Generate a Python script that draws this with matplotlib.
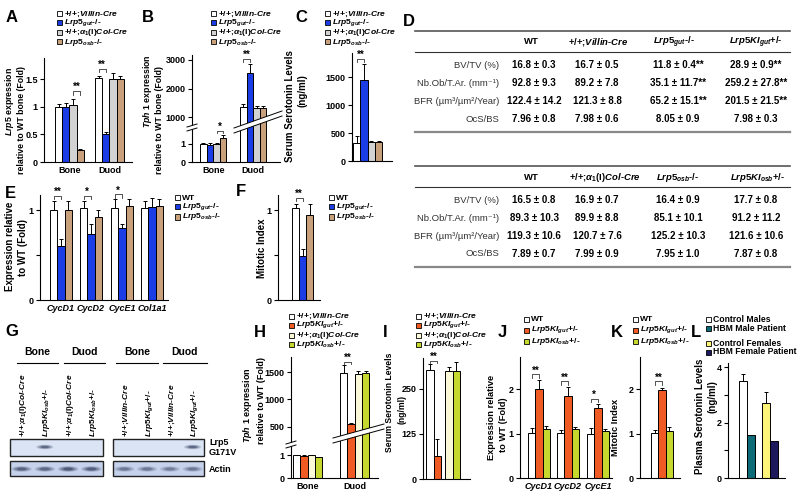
import matplotlib
matplotlib.use('Agg')
import matplotlib.pyplot as plt
from matplotlib.patches import Rectangle, Polygon, Ellipse
from matplotlib.lines import Line2D

plt.rcParams['font.family'] = ['Liberation Sans', 'DejaVu Sans']
plt.rcParams['font.weight'] = 'bold'
plt.rcParams['mathtext.fontset'] = 'custom'
plt.rcParams['mathtext.rm'] = 'Liberation Sans:bold'
plt.rcParams['mathtext.it'] = 'Liberation Sans:bold:italic'
plt.rcParams['mathtext.bf'] = 'Liberation Sans:bold'
plt.rcParams['mathtext.sf'] = 'Liberation Sans:bold'

# colours
WHITE = 'white'
BLUE = '#1b3de6'
GRAY = '#d2d2d2'
TAN = '#c9a07c'
ORANGE = '#f05a23'
CREAM = '#fbf8d8'
LIME = '#c6d82e'
TEAL = '#0d6b78'
YELLOW = '#fff47a'
NAVY = '#1c1a5c'

# genotype labels
VIL = r'+/+;$Villin$-$Cre$'
COL = r'+/+;$\alpha_1$(I)$Col$-$Cre$'
GUT_KO = r'$\mathit{Lrp5}_{gut}$-/-'
OSB_KO = r'$\mathit{Lrp5}_{osb}$-/-'
GUT_KI = r'$\mathit{Lrp5KI}_{gut}$+/-'
OSB_KI = r'$\mathit{Lrp5KI}_{osb}$+/-'

# ---- data ----
tissues = ['Bone', 'Duod']
a_vals = [[1.0, 1.0, 1.03, 0.22], [1.52, 0.5, 1.5, 1.5]]
a_errs = [[0.05, 0.06, 0.1, 0.02], [0.04, 0.04, 0.1, 0.05]]

b_vals = [[1.0, 0.95, 1.0, 1.35], [1350, 2550, 1310, 1310]]
b_errs = [[0.05, 0.08, 0.05, 0.15], [100, 320, 90, 90]]

c_vals = [[330, 1440, 340, 340]]
c_errs = [[110, 300, 10, 15]]

d_rows = ['BV/TV (%)', 'Nb.Ob/T.Ar. (mm⁻¹)', 'BFR (µm³/µm²/Year)', 'OcS/BS']
d1_head = ['WT', VIL, GUT_KO, GUT_KI]
d1_vals = [['16.8 ± 0.3', '16.7 ± 0.5', '11.8 ± 0.4**', '28.9 ± 0.9**'],
           ['92.8 ± 9.3', '89.2 ± 7.8', '35.1 ± 11.7**', '259.2 ± 27.8**'],
           ['122.4 ± 14.2', '121.3 ± 8.8', '65.2 ± 15.1**', '201.5 ± 21.5**'],
           ['7.96 ± 0.8', '7.98 ± 0.6', '8.05 ± 0.9', '7.98 ± 0.3']]
d2_head = ['WT', COL, OSB_KO, OSB_KI]
d2_vals = [['16.5 ± 0.8', '16.9 ± 0.7', '16.4 ± 0.9', '17.7 ± 0.8'],
           ['89.3 ± 10.3', '89.9 ± 8.8', '85.1 ± 10.1', '91.2 ± 11.2'],
           ['119.3 ± 10.6', '120.7 ± 7.6', '125.2 ± 10.3', '121.6 ± 10.6'],
           ['7.89 ± 0.7', '7.99 ± 0.9', '7.95 ± 1.0', '7.87 ± 0.8']]

e_genes = ['CycD1', 'CycD2', 'CycE1', 'Col1a1']
e_vals = [[1.0, 0.6, 1.0], [1.02, 0.73, 0.92], [1.02, 0.8, 1.05], [1.02, 1.04, 1.05]]
e_errs = [[0.1, 0.08, 0.1], [0.08, 0.12, 0.08], [0.1, 0.05, 0.08], [0.08, 0.1, 0.07]]

f_vals = [[1.02, 0.49, 0.95]]
f_errs = [[0.05, 0.08, 0.12]]

g_lanes = [COL, OSB_KI, COL, OSB_KI, VIL, GUT_KI, VIL, GUT_KI]
g_lrp5 = [0, 0.8, 0, 0, 0, 0, 0, 0.8]
g_actin = [0.8, 0.75, 0.9, 0.85, 0.6, 0.6, 0.55, 0.6]

h_vals = [[1.0, 0.97, 1.0, 0.9], [1490, 560, 1460, 1480]]
h_errs = [[0.02, 0.04, 0.02, 0.02], [130, 20, 60, 40]]

i_vals = [[303, 65], [300, 300]]
i_errs = [[15, 45], [10, 25]]

j_genes = ['CycD1', 'CycD2', 'CycE1']
j_vals = [[1.02, 2.0, 1.1], [1.02, 1.85, 1.1], [1.0, 1.58, 1.05]]
j_errs = [[0.1, 0.2, 0.08], [0.05, 0.2, 0.05], [0.12, 0.08, 0.05]]

k_vals = [[1.02, 1.98, 1.05]]
k_errs = [[0.06, 0.05, 0.1]]

l_vals = [[3.5, 1.55], [2.7, 1.32]]
l_errs = [[0.25, 0], [0.4, 0]]

# ---- helpers (pixel layout on an 800x494 canvas) ----
fig = plt.figure(figsize=(8, 4.94), dpi=100)
W, H = 800, 494


def fxy(x, y):
    return (x / W, 1 - y / H)


def ftext(x, y, s, **kw):
    fig.text(x / W, 1 - y / H, s, **kw)


def fline(xs, ys, **kw):
    fig.add_artist(Line2D([x / W for x in xs], [1 - y / H for y in ys],
                          transform=fig.transFigure, **kw))


def add_ax(x0, y0, x1, y1):
    ax = fig.add_axes([x0 / W, 1 - y1 / H, (x1 - x0) / W, (y1 - y0) / H])
    ax.set_xlim(0, x1 - x0)
    ax.patch.set_alpha(0)
    for s in ('top', 'right'):
        ax.spines[s].set_visible(False)
    for s in ('left', 'bottom'):
        ax.spines[s].set_linewidth(0.8)
    ax.tick_params(axis='y', length=3, width=0.8, labelsize=6.5, pad=1.5)
    ax.tick_params(axis='x', length=0, labelsize=6.5, pad=3)
    ax.set_xticks([])
    return ax


def bars(ax, vals, errs, colors, starts, bw):
    centers = []
    for g, start in enumerate(starts):
        row = []
        for i, (v, e) in enumerate(zip(vals[g], errs[g])):
            xc = start + (i + 0.5) * bw
            ax.bar(xc, v, bw, color=colors[i], edgecolor='black', linewidth=0.7, zorder=2)
            if e:
                ax.errorbar(xc, v, yerr=[[0], [e]], fmt='none', ecolor='black',
                            elinewidth=0.7, capsize=1.6, capthick=0.7, zorder=1)
            row.append(xc)
        centers.append(row)
    return centers


def sig(ax, xa, xb, y, h, s='**', fs=7):
    ax.plot([xa, xa, xb, xb], [y, y + h, y + h, y], color='#333', lw=0.6, clip_on=False)
    ax.text((xa + xb) / 2, y + h * 0.6, s, ha='center', va='bottom', fontsize=fs, clip_on=False)


def legend(x, ys, labels, colors, fs=6.1):
    for y, lab, c in zip(ys, labels, colors):
        fig.add_artist(Rectangle(fxy(x, y + 2.5), 5 / W, 5 / H, transform=fig.transFigure,
                                 facecolor=c, edgecolor='black', lw=0.6))
        ftext(x + 7, y, lab, fontsize=fs, va='center', ha='left')


def band(x0, y0, x1, y1, gap=5):
    fig.add_artist(Polygon([fxy(x0, y0), fxy(x1, y1), fxy(x1, y1 + gap), fxy(x0, y0 + gap)],
                           closed=True, transform=fig.transFigure, facecolor='white',
                           edgecolor='none', zorder=5))
    fline([x0, x1], [y0, y1], color='black', lw=0.7, zorder=6)
    fline([x0, x1], [y0 + gap, y1 + gap], color='black', lw=0.7, zorder=6)


def ylab(x, y, s, fs=7):
    ftext(x, y, s, rotation=90, ha='center', va='center', fontsize=fs)


def letter(x, y, s):
    ftext(x, y, s, fontsize=12, ha='center', va='center')


# ---- A ----
letter(12, 17, 'A')
legend(57, [14, 23, 33, 42], [VIL, GUT_KO, COL, OSB_KO], [WHITE, BLUE, GRAY, TAN])
ax = add_ax(44, 58, 132, 162)
ax.set_ylim(0, 1.88)
c = bars(ax, a_vals, a_errs, [WHITE, BLUE, GRAY, TAN], [11, 51], 7.2)
ax.set_yticks([0, 0.5, 1, 1.5], ['0', '0.5', '1', '1.5'])
ax.set_xticks([sum(r) / len(r) for r in c], tissues)
sig(ax, c[0][2], c[0][3], 1.22, 0.07)
sig(ax, c[1][0], c[1][1], 1.62, 0.07)
ylab(10, 101, r'$\mathit{Lrp5}$ expression', fs=6.3)
ylab(22, 120, 'relative to WT bone (Fold)', fs=6.3)

# ---- B (broken axis) ----
letter(148, 17, 'B')
legend(211, [14, 23, 33, 42], [VIL, GUT_KO, COL, OSB_KO], [WHITE, BLUE, GRAY, TAN])
lo = add_ax(192, 125, 280, 162)
hi = add_ax(192, 55, 280, 125)
lo.set_ylim(0, 2.05)
hi.set_ylim(720, 3175)
hi.spines['bottom'].set_visible(False)
for a in (lo, hi):
    c = bars(a, b_vals, b_errs, [WHITE, BLUE, GRAY, TAN], [8, 48], 6.6)
lo.set_yticks([0, 1], ['0', '1'])
hi.set_yticks([1000, 2000, 3000], ['1000', '2000', '3000'])
lo.set_xticks([sum(r) / len(r) for r in c], tissues)
sig(lo, c[0][2], c[0][3], 1.58, 0.12, '*')
sig(hi, c[1][0], c[1][1], 2940, 90)
band(234, 128, 282, 111)
band(187, 127, 197, 124, gap=4)
ylab(147, 91, r'$\mathit{Tph\ 1}$ expression', fs=6.3)
ylab(159, 120, 'relative to WT bone (Fold)', fs=6.3)

# ---- C ----
letter(301, 17, 'C')
legend(325, [14, 23, 33, 42], [VIL, GUT_KO, COL, OSB_KO], [WHITE, BLUE, GRAY, TAN])
ax = add_ax(352, 53, 392, 161)
ax.set_ylim(0, 1929)
c = bars(ax, c_vals, c_errs, [WHITE, BLUE, GRAY, TAN], [1], 7.3)
ax.set_yticks([0, 500, 1000, 1500], ['0', '500', '1000', '1500'])
sig(ax, c[0][0], c[0][1], 1770, 60)
ylab(290, 106, 'Serum Serotonin Levels')
ylab(303, 91, '(ng/ml)')

# ---- D (tables) ----
letter(409, 22, 'D')
col_x = [534, 597, 678, 756]


def table(top, head, vals, hx):
    fline([415, 790], [top, top], color='#555', lw=1.2)
    fline([415, 790], [top + 21, top + 21], color='#333', lw=0.8)
    fline([415, 790], [top + 101, top + 101], color='#888', lw=1.6)
    for x, s in zip(hx, head):
        ftext(x, top + 11, s, ha='center', va='center', fontsize=6.8)
    for r, (lab, row) in enumerate(zip(d_rows, vals)):
        y = top + 34 + r * 18
        ftext(499, y, lab, ha='right', va='center', fontsize=6.8, fontweight='normal', color='#333')
        for x, s in zip(col_x, row):
            ftext(x, y, s, ha='center', va='center', fontsize=7)


table(31, d1_head, d1_vals, [531, 598, 674, 756])
table(166, d2_head, d2_vals, [531, 605, 678, 758])

# ---- E ----
letter(10, 193, 'E')
legend(175, [198, 207, 217], ['WT', GUT_KO, OSB_KO], [WHITE, BLUE, TAN])
ax = add_ax(40, 195, 168, 300)
ax.set_ylim(0, 1.17)
c = bars(ax, e_vals, e_errs, [WHITE, BLUE, TAN], [10, 40, 71, 101], 7.3)
ax.set_yticks([0, 0.5, 1], ['0', '', '1'])
ax.set_xticks([sum(r) / len(r) for r in c], e_genes, fontstyle='italic')
sig(ax, c[0][0], c[0][1], 1.12, 0.04)
sig(ax, c[1][0], c[1][1], 1.12, 0.04, '*')
sig(ax, c[2][0], c[2][1], 1.14, 0.04, '*')
ylab(10, 246, 'Expression relative')
ylab(23, 247, 'to WT (Fold)')

# ---- F ----
letter(241, 192, 'F')
legend(329, [198, 207, 217], ['WT', GUT_KO, OSB_KO], [WHITE, BLUE, TAN])
ax = add_ax(278, 195, 320, 300)
ax.set_ylim(0, 1.17)
c = bars(ax, f_vals, f_errs, [WHITE, BLUE, TAN], [14], 7)
ax.set_yticks([0, 0.5, 1], ['0', '', '1'])
sig(ax, c[0][0], c[0][1], 1.1, 0.04)
ylab(262, 248, 'Mitotic Index')

# ---- G (western blot) ----
letter(12, 331, 'G')
for s, x0, x1 in [('Bone', 17, 58), ('Duod', 64, 105), ('Bone', 116, 158), ('Duod', 163, 207)]:
    ftext((x0 + x1) / 2, 352, s, ha='center', va='center', fontsize=7.5)
    fline([x0, x1], [363, 363], color='black', lw=0.8)
boxes = [(10, 103), (113, 204)]
for bx0, bx1 in boxes:
    fig.add_artist(Rectangle(fxy(bx0, 456), (bx1 - bx0) / W, 17 / H, transform=fig.transFigure,
                             facecolor='#dbe4f5', edgecolor='#222', lw=1.0))
    fig.add_artist(Rectangle(fxy(bx0, 476), (bx1 - bx0) / W, 15 / H, transform=fig.transFigure,
                             facecolor='#c6d2ec', edgecolor='#222', lw=1.0))
for k, lab in enumerate(g_lanes):
    bx0, bx1 = boxes[k // 4]
    x = bx0 + ((k % 4) + 0.5) * (bx1 - bx0) / 4
    ftext(x + 2, 437, lab, rotation=90, ha='center', va='bottom', fontsize=6)
    for scale, alpha in [(1.0, 0.25), (0.75, 0.35), (0.5, 0.5)]:
        if g_lrp5[k]:
            fig.add_artist(Ellipse(fxy(x, 447), 17 * scale / W, 4.5 * scale / H,
                                   transform=fig.transFigure, facecolor='#1c2a4a',
                                   edgecolor='none', alpha=alpha * g_lrp5[k]))
        fig.add_artist(Ellipse(fxy(x, 469), 20 * scale / W, 5.5 * scale / H,
                               transform=fig.transFigure, facecolor='#1c2a4a',
                               edgecolor='none', alpha=alpha * g_actin[k]))
ftext(209, 442, 'Lrp5', ha='left', va='center', fontsize=6.5)
ftext(209, 452, 'G171V', ha='left', va='center', fontsize=6.5)
ftext(209, 469, 'Actin', ha='left', va='center', fontsize=6.5)

# ---- H (broken axis) ----
letter(260, 332, 'H')
legend(289, [316, 325, 335, 344], [VIL, GUT_KI, COL, OSB_KI], [WHITE, ORANGE, CREAM, LIME])
lo = add_ax(291, 441, 378, 478)
hi = add_ax(291, 357, 378, 441)
lo.set_ylim(0, 1.61)
hi.set_ylim(245, 1773)
hi.spines['bottom'].set_visible(False)
for a in (lo, hi):
    c = bars(a, h_vals, h_errs, [WHITE, ORANGE, CREAM, LIME], [2, 49], 7.3)
lo.set_yticks([0, 1], ['0', '1'])
hi.set_yticks([500, 1000, 1500], ['500', '1000', '1500'])
lo.set_xticks([sum(r) / len(r) for r in c], tissues)
sig(hi, c[1][0], c[1][1], 1640, 45)
band(333, 438, 384, 424)
band(286, 444, 296, 441, gap=4)
ylab(248, 405, r'$\mathit{Tph\ 1}$ expression', fs=6.5)
ylab(261, 400, 'relative to WT (Fold)', fs=6.5)

# ---- I ----
letter(385, 332, 'I')
legend(416, [316, 325, 335, 344], [VIL, GUT_KI, COL, OSB_KI], [WHITE, ORANGE, CREAM, LIME])
ax = add_ax(423, 358, 470, 479)
ax.set_ylim(0, 336)
c = bars(ax, i_vals, i_errs, [WHITE, ORANGE], [3, 22], 7.5)
for patch, col in zip(ax.patches[2:], [CREAM, LIME]):
    patch.set_facecolor(col)
ax.set_yticks([0, 125, 250], ['0', '125', '250'])
sig(ax, c[0][0], c[0][1], 322, 7)
ylab(389, 402, 'Serum Serotonin Levels', fs=6.2)
ylab(402, 410, '(ng/ml)', fs=6.2)

# ---- J ----
letter(502, 332, 'J')
legend(524, [319, 330, 341], ['WT', GUT_KI, OSB_KI], [WHITE, ORANGE, LIME])
ax = add_ax(520, 357, 612, 478)
ax.set_ylim(0, 2.72)
c = bars(ax, j_vals, j_errs, [WHITE, ORANGE, LIME], [8, 37, 67], 7.3)
ax.set_yticks([0, 1, 2], ['0', '1', '2'])
ax.set_xticks([sum(r) / len(r) for r in c], j_genes, fontstyle='italic')
sig(ax, c[0][0], c[0][1], 2.25, 0.08)
sig(ax, c[1][0], c[1][1], 2.1, 0.08)
sig(ax, c[2][0], c[2][1], 1.7, 0.08, '*')
ylab(491, 417, 'Expression relative', fs=6.7)
ylab(504, 425, 'to WT (Fold)', fs=6.7)

# ---- K ----
letter(617, 332, 'K')
legend(633, [319, 330, 341], ['WT', GUT_KI, OSB_KI], [WHITE, ORANGE, LIME])
ax = add_ax(640, 357, 680, 478)
ax.set_ylim(0, 2.72)
c = bars(ax, k_vals, k_errs, [WHITE, ORANGE, LIME], [11], 7.3)
ax.set_yticks([0, 1, 2], ['0', '1', '2'])
sig(ax, c[0][0], c[0][1], 2.1, 0.08)
ylab(616, 427, 'Mitotic Index', fs=6.7)

# ---- L ----
letter(696, 332, 'L')
legend(706, [319, 328], ['Control Males', 'HBM Male Patient'], [WHITE, TEAL], fs=6.2)
legend(706, [343, 352], ['Control Females', 'HBM Female Patient'], [YELLOW, NAVY], fs=6.2)
ax = add_ax(728, 363, 785, 478)
ax.set_ylim(0, 4.15)
c = bars(ax, l_vals, l_errs, [WHITE, TEAL], [11, 34], 8)
for patch, col in zip(ax.patches[2:], [YELLOW, NAVY]):
    patch.set_facecolor(col)
ax.set_yticks([0, 1, 2, 3, 4], ['0', '', '2', '', '4'])
ylab(700, 416, 'Plasma Serotonin Levels')
ylab(712, 397, '(ng/ml)')

fig.savefig('out.png', dpi=100)
